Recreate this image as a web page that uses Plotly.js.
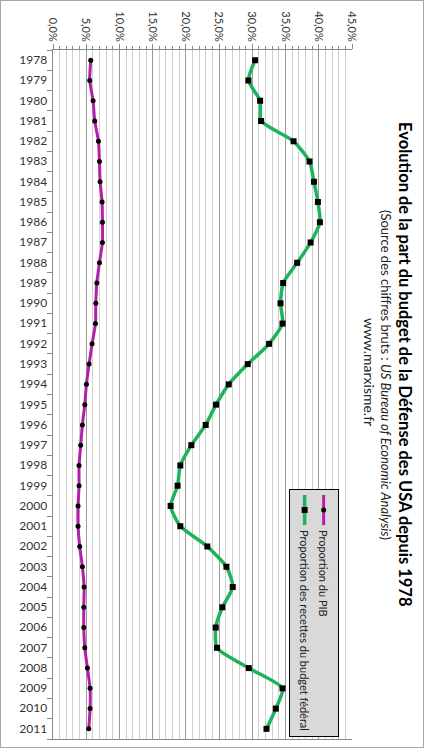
<!DOCTYPE html>
<html>
<head>
<meta charset="utf-8">
<script src="https://cdn.plot.ly/plotly-3.0.1.min.js"></script>
<style>
html,body{margin:0;padding:0;background:#fff;overflow:hidden;}
#frame{position:absolute;left:0;top:0;width:424px;height:748px;box-sizing:border-box;border:1px solid #a6a6a6;pointer-events:none;z-index:5;}
#chart{position:absolute;left:0;top:0;width:748px;height:424px;transform-origin:0 0;transform:translate(424px,0) rotate(90deg);}
</style>
</head>
<body>
<div id="chart"></div>
<div id="frame"></div>
<script>
const years = ["1978","1979","1980","1981","1982","1983","1984","1985","1986","1987","1988","1989","1990","1991","1992","1993","1994","1995","1996","1997","1998","1999","2000","2001","2002","2003","2004","2005","2006","2007","2008","2009","2010","2011"];
const partPIB = [5.68,5.53,6.03,6.28,6.84,6.99,7.09,7.39,7.44,7.44,6.99,6.59,6.44,6.39,5.88,5.43,5.03,4.78,4.42,4.17,3.92,3.92,3.77,3.77,4.02,4.42,4.68,4.63,4.63,4.78,5.18,5.58,5.58,5.38];
const partRecettes = [30.42,29.41,31.17,31.32,36.20,38.61,39.27,39.87,40.17,38.77,36.75,34.64,34.24,34.54,32.53,29.31,26.45,24.54,22.98,20.82,19.16,18.75,17.70,19.16,23.23,26.10,27.05,25.49,24.49,24.69,29.46,34.54,33.54,32.13];
const seriesNames = ["Proportion du PIB","Proportion des recettes du budget fédéral"];
const titleText = "Evolution de la part du budget de la Défense des USA depuis 1978";
const subText = "(Source des chiffres bruts : <i>US Bureau of Economic Analysis</i>)";
const siteText = "www.marxisme.fr";

const FONT = "Lato, 'Liberation Sans', sans-serif";

const traces = [
  {x: years, y: partPIB, name: seriesNames[0], type: 'scatter', mode: 'lines+markers',
   line: {color: '#b41fa8', width: 3, shape: 'spline', smoothing: 0.6},
   marker: {symbol: 'circle', size: 5, color: '#000'}},
  {x: years, y: partRecettes, name: seriesNames[1], type: 'scatter', mode: 'lines+markers',
   line: {color: '#1db35a', width: 3.5, shape: 'spline', smoothing: 0.6},
   marker: {symbol: 'square', size: 6, color: '#000'}}
];

const layout = {
  width: 748, height: 424,
  margin: {l: 50, r: 9, t: 72, b: 53, pad: 0},
  paper_bgcolor: '#fff', plot_bgcolor: '#fff',
  separators: ', ',
  font: {family: FONT, size: 11, color: '#333'},
  showlegend: true,
  legend: {x: 0.997, xanchor: 'right', y: 0.957, yanchor: 'top',
    bgcolor: '#d9d9d9', bordercolor: '#000', borderwidth: 1,
    font: {family: FONT, size: 11, color: '#222'}, tracegroupgap: 0, itemwidth: 30},
  xaxis: {type: 'category', tickangle: -90, ticks: 'outside', tickson: 'boundaries',
    ticklen: 5, tickcolor: '#888', showline: true, linecolor: '#888', linewidth: 1,
    showgrid: false, zeroline: false, tickfont: {family: FONT, size: 12, color: '#333'},
    range: [-0.5, years.length - 0.5]},
  yaxis: {range: [0, 45], dtick: 5, tickformat: '.1f', ticksuffix: '%',
    ticks: 'outside', ticklen: 5, tickcolor: '#888',
    showline: true, linecolor: '#888', linewidth: 1, mirror: true,
    showgrid: true, gridcolor: '#9a9a9a', gridwidth: 1, zeroline: false,
    tickfont: {family: FONT, size: 11, color: '#333'},
    minor: {dtick: 1, showgrid: true, gridcolor: '#d0d0d0', gridwidth: 1, ticks: 'outside', ticklen: 3, tickcolor: '#888'}},
  annotations: [
    {text: '<b>' + titleText + '</b>', xref: 'paper', yref: 'paper', x: 0.456, y: 1, yanchor: 'middle',
     yshift: 53, showarrow: false, font: {family: FONT, size: 16.5, color: '#000'}},
    {text: subText, xref: 'paper', yref: 'paper', x: 0.472, y: 1, yanchor: 'middle',
     yshift: 34, showarrow: false, font: {family: FONT, size: 13, color: '#222'}},
    {text: siteText, xref: 'paper', yref: 'paper', x: 0.468, y: 1, yanchor: 'middle',
     yshift: 18, showarrow: false, font: {family: FONT, size: 14, color: '#222'}}
  ]
};

Plotly.newPlot('chart', traces, layout, {displayModeBar: false, staticPlot: true});
</script>
</body>
</html>
